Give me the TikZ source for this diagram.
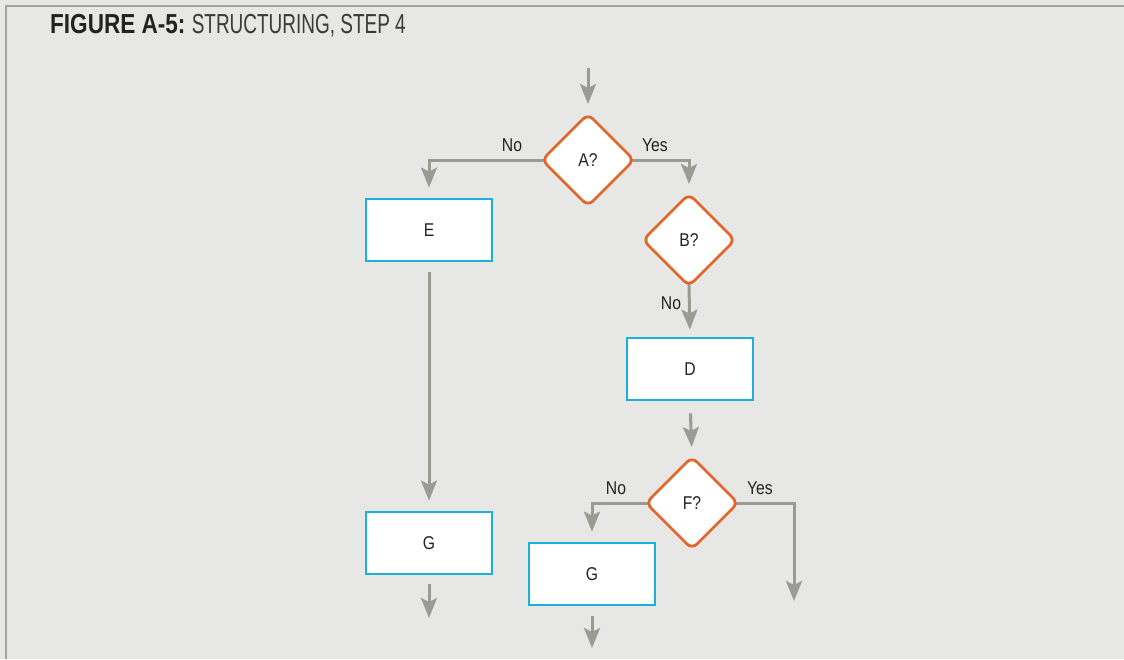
\documentclass[tikz,border=0pt]{standalone}
\usepackage{fontspec}
\setmainfont{Liberation Sans}[FakeStretch=0.85]
\newfontfamily\titlebold{Liberation Sans}[FakeStretch=0.82]
\newfontfamily\titlelight{Liberation Sans}[FakeStretch=0.69]
\usetikzlibrary{shapes.geometric,arrows.meta}
\pgfdeclarelayer{bottom}
\pgfdeclarelayer{mid}
\pgfsetlayers{bottom,mid,main}
\definecolor{bg}{HTML}{E7E7E5}
\definecolor{framec}{HTML}{A3A39D}
\definecolor{arrc}{HTML}{9B9B95}
\definecolor{orangec}{HTML}{E0662A}
\definecolor{bluec}{HTML}{1AB0D8}
\definecolor{txt}{HTML}{222222}
\tikzset{
  procbox/.style={draw=bluec, line width=2.8pt, fill=white, minimum width=126pt, minimum height=62pt, inner sep=0pt, text=txt, font=\fontsize{18.5}{21}\selectfont},
  decide/.style={diamond, draw=orangec, line width=2.8pt, fill=white, rounded corners=7pt, minimum width=92pt, minimum height=92pt, aspect=1, inner sep=0pt, outer sep=0pt, text=txt, font=\fontsize{18.5}{21}\selectfont},
  arr/.style={draw=arrc, line width=3pt, -{Stealth[length=20pt, width=16pt, inset=4pt]}},
  lbl/.style={text=txt, font=\fontsize{18.5}{21}\selectfont, inner sep=0pt}
}
\begin{document}
\begin{tikzpicture}[x=1pt, y=-1pt]
\begin{pgfonlayer}{bottom}
\useasboundingbox (0,0) rectangle (1124,659);
\fill[bg] (0,0) rectangle (1124,659);
\draw[framec, line width=2.8pt] (6,659) -- (6,6) -- (1124,6);
\end{pgfonlayer}
\node[anchor=west, inner sep=0pt] (title) at (50,26) {\fontsize{27.5}{30}\selectfont\color{txt}\titlebold\bfseries FIGURE A-5:\ \color[HTML]{3A3A3A}\titlelight\mdseries STRUCTURING, STEP 4};

\node[decide] (A) at (588,160) {A?};
\node[procbox] (E) at (429,230) {E};
\node[decide] (B) at (689,240) {B?};
\node[procbox] (D) at (690,369) {D};
\node[procbox] (G1) at (429,543) {G};
\node[decide] (F) at (692,503) {F?};
\node[procbox] (G2) at (592,574) {G};

\coordinate (in) at (588,68);
\coordinate (out1) at (429,618);
\coordinate (out2) at (592,648);
\coordinate (outF) at (794,601);

\begin{pgfonlayer}{mid}
\draw[arr, shorten >=10pt] (in) -- (A.north);
\draw[arr, shorten <=-6pt, shorten >=10pt] (A.west) -| (E.north);
\draw[arr, shorten <=-6pt, shorten >=10pt] (A.east) -| (B.north);
\draw[arr, shorten <=-6pt, shorten >=7pt] (B.south) -- (D.north);
\draw[arr, shorten <=10pt, shorten >=10pt] (E.south) -- (G1.north);
\draw[arr, shorten <=12pt, shorten >=10pt] (D.south) -- (F.north);
\draw[arr, shorten <=-6pt, shorten >=10pt] (F.west) -| (G2.north);
\draw[arr, shorten <=-6pt] (F.east) -| (outF);
\draw[arr, shorten <=9pt] (G1.south) -- (out1);
\draw[arr, shorten <=10pt] (G2.south) -- (out2);
\end{pgfonlayer}

\node[lbl] (lA1) at (512,145) {No};
\node[lbl] (lA2) at (655,145) {Yes};
\node[lbl] (lB) at (671,303) {No};
\node[lbl] (lF1) at (616,488) {No};
\node[lbl] (lF2) at (760,488) {Yes};
\end{tikzpicture}
\end{document}
